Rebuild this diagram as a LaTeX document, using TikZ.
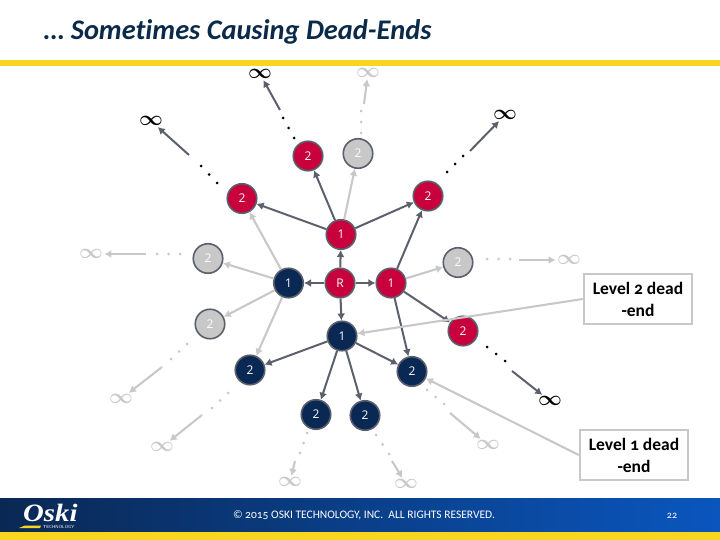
\documentclass[tikz,border=0pt]{standalone}
\usepackage{fontspec}
\setmainfont[Numbers=OldStyle,Ligatures=CommonOff]{Carlito}
\newfontfamily\numfont{Open Sans}
\newfontfamily\logofont{Liberation Serif}
\usepackage{tikz}
\usetikzlibrary{positioning,calc}
\usetikzlibrary{arrows.meta}
\definecolor{OskiNavy}{RGB}{10,40,84}
\definecolor{OskiTitle}{RGB}{11,42,74}
\definecolor{OskiBlue}{RGB}{10,86,190}
\definecolor{OskiRed}{RGB}{200,0,60}
\definecolor{OskiYellow}{RGB}{248,214,32}
\definecolor{RimGray}{RGB}{92,96,108}
\definecolor{FadeGray}{RGB}{200,200,200}
\tikzset{
  v/.style={circle,draw=RimGray,line width=1.6pt,inner sep=0pt,minimum size=29.5pt,
    text=white,font=\numfont\fontsize{12}{12}\selectfont},
  vred/.style={v,fill=OskiRed},
  vnavy/.style={v,fill=OskiNavy},
  vgray/.style={v,fill=FadeGray},
  edge/.style={draw=RimGray,line width=2pt,-{Latex[length=7pt,width=8pt]}},
  fadeedge/.style={draw=FadeGray,line width=2.1pt,-{Latex[length=7pt,width=8pt]}},
  inf/.style={inner sep=0pt,outer sep=1.5pt,font=\boldmath\fontsize{22}{22}\selectfont},
  infgray/.style={inf,text=FadeGray},
  tag/.style={draw=FadeGray,line width=2.4pt,fill=white,minimum width=108pt,minimum height=50pt,
    inner sep=0pt,align=center,font=\bfseries\fontsize{17.5}{22}\selectfont},
}
\newcommand{\threedots}[3]{\fill[#1] (#2) circle (1.5pt) ($(#2)!.5!(#3)$) circle (1.5pt) (#3) circle (1.5pt);}
\begin{document}
\begin{tikzpicture}[x=1pt,y=-1pt]
\useasboundingbox (0,0) rectangle (720,540);
% title and bands
\node[anchor=base west,inner sep=0pt,text=OskiTitle,font=\bfseries\itshape\fontsize{28.4}{28}\selectfont] (title) at (44,40) {\dots\ Sometimes Causing Dead-Ends};
\fill[OskiYellow] (0,60) rectangle (720,66);
\shade[left color=OskiNavy,right color=OskiBlue] (0,498) rectangle (720,532);
\fill[OskiYellow] (0,532) rectangle (720,540);
% logo
\node[anchor=base west,inner sep=0pt,xscale=1.15,text depth=0pt,text=white,font=\logofont\bfseries\itshape\fontsize{25}{25}\selectfont] (logo) at (23,521) {Oski};
\fill[OskiYellow] (19,528) -- (25,525.5) -- (41,525.5) -- (40,528) -- cycle;
\node[anchor=base west,inner sep=0pt,text=white,font=\sffamily\fontsize{4.4}{4.4}\selectfont] (logotech) at (43,528.5) {TECHNOLOGY};
% footer text
\node[inner sep=0pt,text=white,font=\fontsize{11.5}{11.5}\selectfont] (copy) at (364,515) {© 2015 OSKI TECHNOLOGY, INC.\ \ ALL RIGHTS RESERVED.};
\node[inner sep=0pt,text=white,font=\fontsize{10}{10}\selectfont] (page) at (672,516) {22};
% level 0 and 1
\node[vred] (r) at (340,283) {R};
\node[vred] (top) at (341,234.5) {1};
\node[vnavy] (left) at (288.5,283) {1};
\node[vred] (right) at (391,283) {1};
\node[vnavy] (down) at (342,336) {1};
% level 2
\node[vred] (a1) at (242,198.5) {2};
\node[vred] (a2) at (308,156) {2};
\node[vred] (a3) at (428,196) {2};
\node[vred] (a4) at (463,331) {2};
\node[vgray] (b1) at (358,153.5) {2};
\node[vgray] (b2) at (208,258.5) {2};
\node[vgray] (b3) at (458,262.5) {2};
\node[vgray] (b4) at (210,324) {2};
\node[vnavy] (c1) at (250,370) {2};
\node[vnavy] (c2) at (316,414.5) {2};
\node[vnavy] (c3) at (365,415.5) {2};
\node[vnavy] (c4) at (412,371.5) {2};
% infinity marks
\node[inf] (ia1) at (151,121) {$\infty$};
\node[inf] (ia2) at (260,74) {$\infty$};
\node[inf] (ia3) at (505,115) {$\infty$};
\node[inf] (ia4) at (550,401) {$\infty$};
\node[infgray] (ib1) at (368,73) {$\infty$};
\node[infgray] (ib2) at (91,254) {$\infty$};
\node[infgray] (ib3) at (569,260) {$\infty$};
\node[infgray] (ib4) at (121,399) {$\infty$};
\node[infgray] (ic1) at (162,447) {$\infty$};
\node[infgray] (ic2) at (290,482) {$\infty$};
\node[infgray] (ic3) at (488,445) {$\infty$};
\node[infgray] (ic4) at (406,484) {$\infty$};
% callouts
\node[tag] (lv2) at (638,299) {Level 2 dead\\-end};
\node[tag] (lv1) at (634,455) {Level 1 dead\\-end};
% edges
\draw[edge] (r)--(top);
\draw[edge] (r)--(left);
\draw[edge] (r)--(right);
\draw[edge] (r)--(down);
\draw[edge] (top)--(a1);
\draw[edge] (top)--(a2);
\draw[edge] (top)--(a3);
\draw[edge] (right)--(a3);
\draw[edge] (right)--(a4);
\draw[edge] (right)--(c4);
\draw[edge] (down)--(c1);
\draw[edge] (down)--(c2);
\draw[edge] (down)--(c3);
\draw[edge] (down)--(c4);
\draw[fadeedge] (top)--(b1);
\draw[fadeedge] (left)--(a1);
\draw[fadeedge] (left)--(b2);
\draw[fadeedge] (left)--(b4);
\draw[fadeedge] (left)--(c1);
\draw[fadeedge] (right)--(b3);
\draw[fadeedge] (lv2.west)--(down);
\draw[fadeedge] (lv1.west)--(c4);
% arrow tails past the dots
\coordinate (ta1) at (189,155);
\coordinate (ta2) at (280,110);
\coordinate (ta3) at (470,151);
\coordinate (ta4) at (512,371);
\coordinate (tb1) at (364,104);
\coordinate (tb2) at (146,254);
\coordinate (tb3) at (519,260);
\coordinate (tb4) at (162,367);
\coordinate (tc1) at (202,415);
\coordinate (tc2) at (295,461);
\coordinate (tc3) at (450,413);
\coordinate (tc4) at (392,461);
\draw[edge] (ta1)--(ia1);
\draw[edge] (ta2)--(ia2);
\draw[edge] (ta3)--(ia3);
\draw[edge] (ta4)--(ia4);
\draw[fadeedge] (tb1)--(ib1);
\draw[fadeedge] (tb2)--(ib2);
\draw[fadeedge] (tb3)--(ib3);
\draw[fadeedge] (tb4)--(ib4);
\draw[fadeedge] (tc1)--(ic1);
\draw[fadeedge] (tc2)--(ic2);
\draw[fadeedge] (tc3)--(ic3);
\draw[fadeedge] (tc4)--(ic4);
% dots
\threedots{black}{217,183}{201,166}
\threedots{black}{294,138}{283,118}
\threedots{black}{447,172}{463,156}
\threedots{black}{487,347}{505,361}
\threedots{FadeGray}{361,133}{361,111}
\threedots{FadeGray}{180,254}{157,254}
\threedots{FadeGray}{487,259}{510,259}
\threedots{FadeGray}{187,344}{171,359}
\threedots{FadeGray}{228,393}{212,408}
\threedots{FadeGray}{307,433}{300,453}
\threedots{FadeGray}{427,390}{444,404}
\threedots{FadeGray}{376,435}{389,454}
\end{tikzpicture}
\end{document}
